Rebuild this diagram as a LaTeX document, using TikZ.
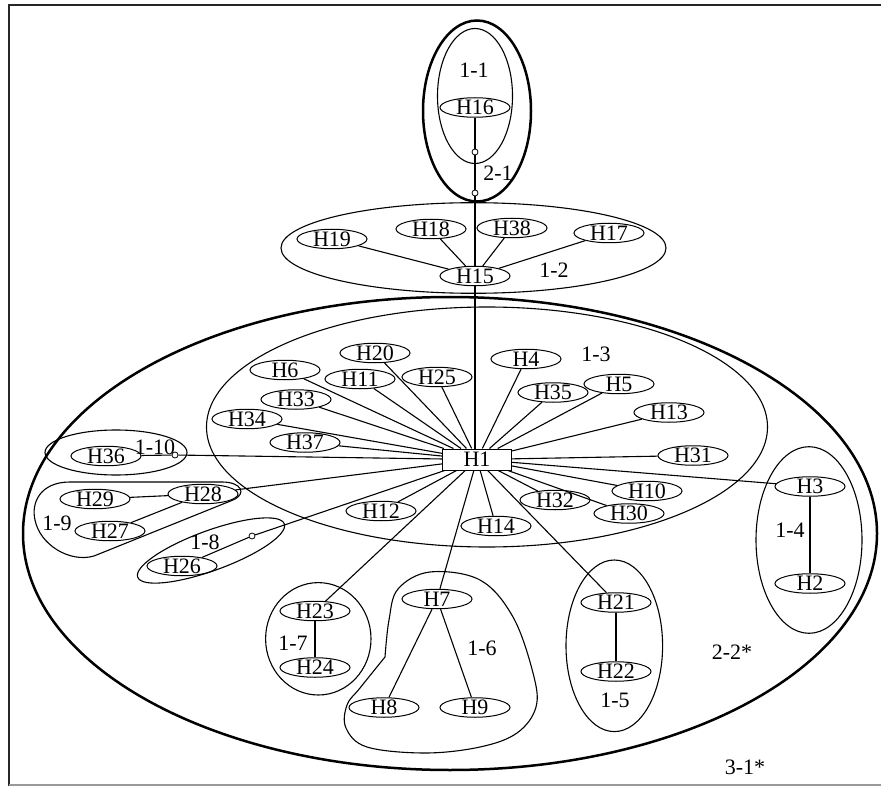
\documentclass[tikz,border=0pt]{standalone}
\usepackage{fontspec}
\setmainfont{Liberation Serif}
\usetikzlibrary{shapes.geometric}
\begin{document}
\begin{tikzpicture}[x=1pt,y=-1pt,
  hn/.style={draw, ellipse, line width=1pt, minimum width=70pt, minimum height=19.5pt, inner xsep=0pt, inner ysep=-2pt},
  boxn/.style={draw, rectangle, line width=1pt, minimum width=69pt, minimum height=21pt, inner sep=0pt},
  lbl/.style={inner sep=0pt},
  grp/.style={line width=1.1pt},
  heavygrp/.style={line width=2.5pt},
  ln/.style={line width=1.1pt},
  dotn/.style={circle, draw, fill=white, inner sep=0pt, minimum size=6pt, line width=0.8pt},
  font=\fontsize{22}{26}\selectfont]
\useasboundingbox (0,0) rectangle (881,786);
% frame (top, left, bottom only)
\draw[line width=2pt, black!85] (9,5) -- (881,5);
\draw[line width=2.2pt, black!85] (9,4) -- (9,786);
\draw[line width=1.1pt, black!40] (9,785) -- (881,785);

% group outlines
\draw[heavygrp] (477,111) ellipse [x radius=54pt, y radius=90.5pt];
\draw[grp] (475,96) ellipse [x radius=37.5pt, y radius=67.5pt];
\draw[grp] (473.5,248) ellipse [x radius=192.5pt, y radius=45.3pt];
\draw[heavygrp] (450,533.5) ellipse [x radius=427pt, y radius=236.5pt];
\draw[grp] (487,427) ellipse [x radius=280.5pt, y radius=120pt];
\draw[grp] (116,452.5) ellipse [x radius=71pt, y radius=22.5pt];
\draw[grp] (809,540) ellipse [x radius=53pt, y radius=93.3pt];
\draw[grp] (614.3,645.8) ellipse [x radius=48.3pt, y radius=85.8pt];
\draw[grp] (318.3,638.8) ellipse [x radius=52.7pt, y radius=56.2pt];
\draw[grp, rotate around={20:(211,550.5)}] (211,550.5) ellipse [x radius=78pt, y radius=20pt];
% 1-9 blob
\draw[grp] (94,556) -- (233,500) .. controls (247,494) and (242,482) .. (222,482)
  -- (70,482) .. controls (40,482) and (31,503) .. (35,520)
  .. controls (40,545) and (70,563) .. (94,556) -- cycle;
% 1-6 blob
\draw[grp] plot[smooth, tension=0.6] coordinates {(385,657) (389,620) (398,589) (430,572) (480,580) (513,617) (533,673) (536,707) (517,733) (480,747) (425,753) (367,747) (346,728) (347,705) (360,688) (385,657)};

% nodes
\node[hn] (H16) at (475,107.5) {H16};
\node[dotn] (c1) at (475,152) {};
\node[dotn] (c2) at (475,193) {};
\node[hn] (H19) at (332,239) {H19};
\node[hn] (H18) at (431,229) {H18};
\node[hn] (H38) at (512,228) {H38};
\node[hn] (H17) at (609,233) {H17};
\node[hn] (H15) at (475,276) {H15};

\node[boxn] (H1) at (477,459.5) {H1};
\node[hn] (H20) at (375,353) {H20};
\node[hn] (H6) at (285,370) {H6};
\node[hn] (H11) at (360,379) {H11};
\node[hn] (H25) at (437,377) {H25};
\node[hn] (H33) at (296,399.5) {H33};
\node[hn] (H34) at (247,419) {H34};
\node[hn] (H37) at (305,442.5) {H37};
\node[hn] (H4) at (526,359) {H4};
\node[hn] (H35) at (553,392.5) {H35};
\node[hn] (H5) at (619,384) {H5};
\node[hn] (H13) at (669,412.5) {H13};
\node[hn] (H31) at (693,455.5) {H31};
\node[hn] (H10) at (647,491) {H10};
\node[hn] (H30) at (629,513.5) {H30};
\node[hn] (H32) at (555,500) {H32};
\node[hn] (H14) at (496,526) {H14};
\node[hn] (H12) at (381,511) {H12};

\node[hn] (H36) at (106,456) {H36};
\node[dotn] (c3) at (175,455) {};
\node[hn] (H29) at (95,499) {H29};
\node[hn] (H28) at (203,494) {H28};
\node[hn] (H27) at (110,531) {H27};
\node[dotn] (c4) at (252,536) {};
\node[hn] (H26) at (182,566) {H26};

\node[hn] (H23) at (315,611) {H23};
\node[hn] (H24) at (315,667.5) {H24};
\node[hn] (H7) at (437,599) {H7};
\node[hn] (H8) at (384,707.5) {H8};
\node[hn] (H9) at (475,707.5) {H9};
\node[hn] (H21) at (616,602.5) {H21};
\node[hn] (H22) at (616,671.5) {H22};
\node[hn] (H3) at (810,486.5) {H3};
\node[hn] (H2) at (810,583.5) {H2};

% labels
\node[lbl] (L11) at (474,70) {1-1};
\node[lbl] (L21) at (498,173) {2-1};
\node[lbl] (L12) at (554,270) {1-2};
\node[lbl] (L13) at (596,354) {1-3};
\node[lbl] (L110) at (155,447) {1-10};
\node[lbl] (L19) at (57,523) {1-9};
\node[lbl] (L18) at (205,542) {1-8};
\node[lbl] (L17) at (293,643) {1-7};
\node[lbl] (L16) at (482,648) {1-6};
\node[lbl] (L15) at (615,700) {1-5};
\node[lbl] (L14) at (790,530) {1-4};
\node[lbl] (L22) at (732,652) {2-2*};
\node[lbl] (L31) at (745,767) {3-1*};

% connectors
\draw[ln] (H16) -- (c1);
\draw[ln] (c1) -- (c2);
\draw[ln] (c2) -- (H15);
\foreach \n in {H19,H18,H38,H17} \draw[ln] (H15) -- (\n);
\draw[ln] (H15.south) -- (H15.south |- H1.north);
\foreach \n in {H20,H6,H11,H25,H33,H34,H37,H4,H35,H5,H13,H31,H10,H30,H32,H14,H12,H3,H21,H7,H23,H28}
  \draw[ln] (H1) -- (\n);
\draw[ln] (H1) -- (c3);
\draw[ln] (c3) -- (H36);
\draw[ln] (H1) -- (c4);
\draw[ln] (c4) -- (H26);
\draw[ln] (H28) -- (H29);
\draw[ln] (H28) -- (H27);
\draw[ln] (H23) -- (H24);
\draw[ln] (H7) -- (H8);
\draw[ln] (H7) -- (H9);
\draw[ln] (H21) -- (H22);
\draw[ln] (H3) -- (H2);
\end{tikzpicture}
\end{document}
